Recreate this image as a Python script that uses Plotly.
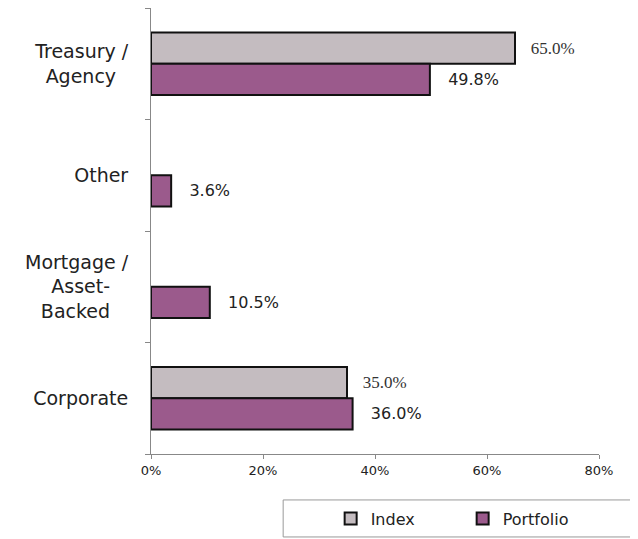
import plotly.graph_objects as go

# sector allocation, percent
categories = ["Treasury / Agency", "Other", "Mortgage / Asset-Backed", "Corporate"]
tick_labels = ["Treasury /<br>Agency\u00a0\u00a0",
               "Other",
               "Mortgage /<br>Asset-\u00a0\u00a0\u00a0<br>Backed\u00a0\u00a0\u00a0",
               "Corporate"]
index_pct = [65.0, None, None, 35.0]
portfolio_pct = [49.8, 3.6, 10.5, 36.0]

fig = go.Figure()
fig.add_trace(go.Bar(
    name="Index", y=categories, x=index_pct, orientation="h",
    marker=dict(color="#c4bcc0", line=dict(color="#111111", width=2)),
    texttemplate="   %{x:.1f}%", textposition="outside", cliponaxis=False,
    textfont=dict(family="Liberation Serif", size=17, color="#333333"),
))
fig.add_trace(go.Bar(
    name="Portfolio", y=categories, x=portfolio_pct, orientation="h",
    marker=dict(color="#9b5a8c", line=dict(color="#111111", width=2)),
    texttemplate="   %{x:.1f}%", textposition="outside", cliponaxis=False,
    textfont=dict(family="DejaVu Sans", size=16, color="#222222"),
))

# page has an 8px body margin, so the figure is a bit smaller than the window
fig.update_layout(
    width=630, height=531,
    barmode="group", bargap=0.44, bargroupgap=0,
    plot_bgcolor="white", paper_bgcolor="white",
    font=dict(family="DejaVu Sans", size=15, color="#222222"),
    margin=dict(l=143, r=39, t=0, b=85, autoexpand=False),
    showlegend=True,
    legend=dict(
        orientation="h", x=0.401, y=-0.145, xanchor="left", yanchor="middle",
        borderwidth=0, bgcolor="rgba(0,0,0,0)",
        font=dict(size=16), entrywidth=87, itemwidth=30,
    ),
    shapes=[dict(type="rect", xref="paper", yref="paper",
                 x0=0.295, x1=1.085, y0=-0.186, y1=-0.103,
                 line=dict(color="#999999", width=1))],
)
fig.update_xaxes(
    range=[0, 80], dtick=20, ticksuffix="%", automargin=False,
    showgrid=False, zeroline=False,
    showline=True, linecolor="#888888", linewidth=1,
    ticks="outside", ticklen=4, tickcolor="#888888",
    tickfont=dict(size=13),
)
fig.update_yaxes(
    autorange="reversed", tickson="boundaries", automargin=False,
    tickmode="array", tickvals=categories, ticktext=tick_labels,
    ticklabelstandoff=18,
    showgrid=False, zeroline=False,
    showline=True, linecolor="#888888", linewidth=1,
    ticks="outside", ticklen=5, tickcolor="#888888",
    tickfont=dict(size=19),
)

fig.write_html("out.html")
